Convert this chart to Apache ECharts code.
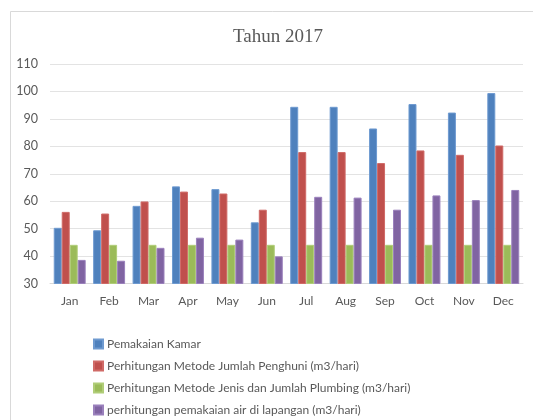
<!DOCTYPE html>
<html>
<head>
<meta charset="utf-8">
<script src="https://cdn.jsdelivr.net/npm/echarts@6/dist/echarts.min.js"></script>
<style>html,body{margin:0;padding:0;background:#fff}#c{width:533px;height:420px}</style>
</head>
<body>
<div id="c"></div>
<script>
const months = ['Jan','Feb','Mar','Apr','May','Jun','Jul','Aug','Sep','Oct','Nov','Dec'];
const pemakaianKamar = [50.3, 49.4, 58.3, 65.4, 64.4, 52.3, 94.4, 94.4, 86.5, 95.4, 92.3, 99.4];
const metodePenghuni = [56.1, 55.5, 59.9, 63.5, 62.8, 56.9, 77.9, 77.9, 73.9, 78.5, 76.9, 80.3];
const metodePlumbing = [44.1, 44.1, 44.1, 44.1, 44.1, 44.1, 44.1, 44.1, 44.1, 44.1, 44.1, 44.1];
const airLapangan = [38.6, 38.3, 43.0, 46.7, 46.0, 39.9, 61.6, 61.3, 56.9, 62.1, 60.4, 64.1];
const seriesNames = [
  'Pemakaian Kamar',
  'Perhitungan Metode Jumlah Penghuni (m3/hari)',
  'Perhitungan Metode Jenis dan Jumlah Plumbing (m3/hari)',
  'perhitungan pemakaian air di lapangan (m3/hari)'
];
const yTicks = {min: 30, max: 110, interval: 10};
const colors = ['#4F81BD', '#C0504D', '#9BBB59', '#8064A2'];
const borders = ['#6E9AD0', '#D06A67', '#B0CD78', '#9A80BC'];

const font = 'Lato, "Open Sans", sans-serif';
const chart = echarts.init(document.getElementById('c'), null, {renderer: 'canvas'});
const dataSets = [pemakaianKamar, metodePenghuni, metodePlumbing, airLapangan];
chart.setOption({
  animation: false,
  backgroundColor: '#fff',
  color: colors,
  graphic: [{
    type: 'rect', silent: true, z: -10,
    shape: {x: 10.5, y: 11.5, width: 600, height: 600},
    style: {fill: 'none', stroke: '#D9D9D9', lineWidth: 1}
  }],
  title: {
    text: 'Tahun 2017', left: 228, top: 23,
    textStyle: {fontFamily: '"Liberation Serif", "Times New Roman", serif', fontSize: 19, fontWeight: 'normal', color: '#595959'}
  },
  legend: {
    orient: 'vertical', left: 93, top: 338, height: 120, itemGap: 10, padding: 0,
    itemWidth: 9, itemHeight: 9, icon: 'rect',
    textStyle: {fontFamily: font, fontSize: 12, color: '#595959', padding: [0,0,0,-1]},
    data: seriesNames
  },
  grid: {left: 50, right: 10, top: 64, bottom: 136.5},
  xAxis: {
    type: 'category', data: months,
    axisLine: {show: true, lineStyle: {color: '#D9D9D9'}},
    axisTick: {show: false},
    axisLabel: {color: '#595959', fontFamily: font, fontSize: 12, margin: 12}
  },
  yAxis: {
    type: 'value', min: yTicks.min, max: yTicks.max, interval: yTicks.interval,
    axisLine: {show: false}, axisTick: {show: false},
    splitLine: {lineStyle: {color: '#E3E3E3'}},
    axisLabel: {color: '#595959', fontFamily: font, fontSize: 12.5, margin: 12}
  },
  series: dataSets.map((d, i) => ({
    name: seriesNames[i], type: 'bar', data: d,
    barGap: '0%', barCategoryGap: '19%',
    itemStyle: {color: colors[i], borderColor: borders[i], borderWidth: 1}
  }))
});
</script>
</body>
</html>
